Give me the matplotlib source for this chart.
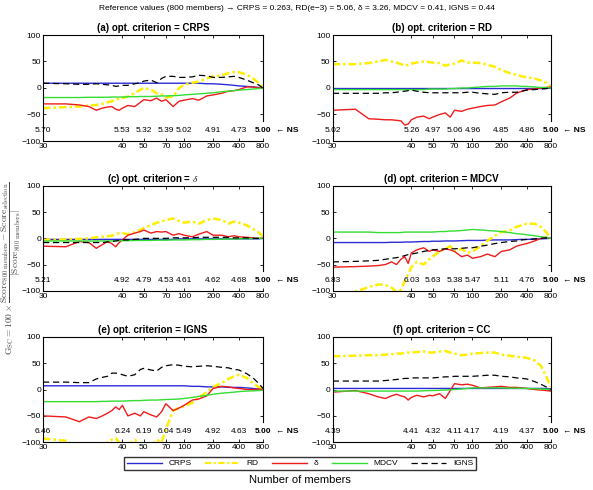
import numpy as np
import matplotlib
matplotlib.use("Agg")
import matplotlib.pyplot as plt
from matplotlib.lines import Line2D

plt.rcParams['font.family'] = ['Liberation Sans', 'DejaVu Sans']
plt.rcParams['mathtext.fontset'] = 'cm'

# ---------------- data ----------------
n_members = [30, 31, 32, 33, 34, 35, 36, 37, 38, 39, 40, 42, 45, 48, 50, 55, 60, 65, 70,
             80, 90, 100, 120, 140, 170, 200, 250, 300, 350, 400, 500, 600, 700, 800]

crps_a = [9]*24 + [8, 8, 7, 6, 5, 4, 3, 2, 1, 0]
rd_a = [-38, -36, -35, -33, -32, -30, -27, -25, -22, -20, -19, -16, -10, -3, 0, -3, -10, -12, -18,
        -16, 0, 6, 10, 12, 18, 22, 24, 28, 30, 30, 25, 18, 10, 0]
delta_a = [-30, -30, -32, -35, -42, -38, -36, -35, -40, -42, -38, -33, -35, -27, -22, -24, -19, -25, -22,
           -35, -25, -23, -20, -23, -15, -13, -10, -6, -5, -3, 2, 2, 0, 0]
mdcv_a = [-18, -18, -18, -17.5, -17.5, -17.5, -17.5, -17, -17, -17, -17, -16.5, -16.5, -16, -16, -16, -15.5,
          -15, -15, -14.5, -14, -13, -12, -11, -10, -9, -7, -6, -5, -4, -3, -2, -1, 0]
igns_a = [9, 8, 7, 7, 8, 7, 6, 5, 3, 4, 5, 5, 8, 10, 13, 15, 10, 18, 22,
          22, 20, 20, 21, 24, 23, 20, 20, 21, 22, 20, 15, 10, 6, 0]

crps_b = [-1]*33 + [0]
rd_b = [45, 45, 47, 50, 53, 50, 48, 45, 42, 44, 46, 48, 50, 49, 48, 47, 42, 45, 46,
        52, 48, 48, 47, 44, 40, 34, 28, 25, 22, 20, 18, 14, 10, 3]
delta_b = [-42, -40, -58, -59, -60, -60, -61, -62, -70, -68, -60, -55, -53, -58, -55, -50, -47, -55, -42,
           -44, -40, -38, -35, -33, -32, -26, -19, -10, -6, -3, -2, 0, 1, 2]
mdcv_b = [-3, -3, -3, -3, -3, -3, -3, -3, -3, -3, -3, -3, -3, -2, -2, -2, -2, -1, -1,
          0, 0, 1, 2, 3, 3, 4, 4, 4, 3, 3, 2, 1, 1, 0]
igns_b = [-10, -10, -10, -10, -9, -9, -8, -7, -6, -5, -4, -6, -8, -9, -9, -9, -9, -9, -9,
          -9, -8, -8, -10, -11, -12, -9, -8, -8, -6, -4, -3, -2, -1, 0]

crps_c = [-2]*20 + [-1]*13 + [0]
rd_c = [-3, -2, -1, 0, 2, 3, 4, 5, 8, 10, 10, 8, 12, 16, 20, 25, 30, 32, 35,
        38, 33, 30, 32, 28, 35, 38, 35, 28, 32, 30, 25, 18, 12, 3]
delta_c = [-15, -16, -6, -8, -19, -12, -6, -10, -16, -8, -3, 6, 10, 13, 16, 10, 13, 12, 13,
           6, 9, 6, 3, 8, 13, 6, 6, 3, 5, 3, 2, 1, 0, 0]
mdcv_c = [-5, -5, -5, -5, -5, -5, -5, -5, -4.5, -4.5, -4.5, -4.5, -4, -4, -4, -4, -3.5, -3.5, -3.5,
          -3, -3, -3, -2.5, -2.5, -2, -2, -1.5, -1.5, -1, -1, -0.5, -0.5, 0, 0]
igns_c = [-8, -8, -8, -8, -8, -8, -7, -6, -5, -4, -3, -3, -2, -1, 0, 0, 0, 0, 0,
          1, 1, 1, 1, 2, 2, 2, 2, 2, 1, 1, 1, 0, 0, 0]

crps_d = [-8, -8, -8, -8, -8, -7.5, -7.5, -7.5, -7, -7, -7, -6.5, -6, -6, -5.5, -5.5, -5, -5, -5,
          -4.5, -4, -4, -4, -3.5, -3, -3, -3, -2.5, -2, -2, -1.5, -1, -0.5, 0]
rd_d = [-130, -102, -93, -88, -89, -94, -102, -98, -82, -68, -55, -45, -50, -40, -35, -25, -20, -15, -25,
        -20, -28, -25, -15, -5, 5, 12, 15, 22, 25, 28, 28, 22, 12, 0]
delta_d = [-55, -54, -53, -52, -50, -45, -50, -40, -35, -48, -28, -22, -18, -25, -22, -25, -20, -22, -25,
           -35, -32, -38, -35, -30, -35, -25, -22, -15, -12, -10, -5, 0, 2, 0]
mdcv_d = [12, 12, 12, 11, 11, 11, 11, 11, 12, 12, 12, 12, 12, 12, 12, 13, 13, 14, 14,
          15, 16, 17, 16, 15, 14, 13, 11, 9, 8, 7, 5, 3, 2, 0]
igns_d = [-45, -44, -43, -42, -40, -38, -37, -35, -33, -31, -30, -28, -25, -23, -22, -21, -20, -20, -20,
          -19, -18, -18, -15, -13, -10, -8, -6, -5, -3, -2, -1, 0, 1, 1]

crps_e = [7]*22 + [6, 6, 5, 5, 5, 4, 4, 4, 3, 2, 1, 0]
rd_e = [-93, -97, -110, -120, -115, -110, -100, -95, -92, -100, -110, -105, -95, -105, -115, -110, -95, -100, -75,
        -40, -35, -32, -25, -15, -5, 5, 12, 20, 25, 28, 22, 12, 5, 0]
delta_e = [-50, -52, -61, -52, -55, -50, -45, -40, -33, -38, -30, -50, -45, -50, -42, -48, -52, -42, -27,
           -40, -35, -30, -20, -18, -12, 2, 6, 5, 3, 2, 0, 0, 1, 0]
mdcv_e = [-23, -23, -23, -23, -23, -22.5, -22.5, -22, -22, -22, -22, -21.5, -21, -21, -20.5, -20, -20, -19.5, -19,
          -18.5, -18, -17, -15, -13, -11, -9, -7, -6, -5, -4, -3, -2.5, -2, -1.5]
igns_e = [14, 14, 13, 13, 20, 23, 25, 31, 31, 30, 28, 25, 28, 38, 40, 37, 35, 42, 45,
          47, 46, 44, 43, 44, 45, 44, 42, 41, 38, 37, 30, 22, 12, 2]

crps_f = [2]*33 + [1]
rd_f = [63, 64, 65, 65, 66, 67, 68, 68, 69, 70, 70, 71, 72, 70, 70, 72, 73, 70, 68,
        65, 66, 68, 69, 70, 70, 66, 64, 62, 61, 60, 55, 45, 25, 5]
delta_f = [-5, -2, -8, -14, -17, -12, -9, -12, -14, -20, -15, -11, -14, -11, -12, -8, -17, -2, 11,
           9, 10, 8, 3, 4, 5, 6, 4, 4, 3, 2, 0, -1, -2, -3]
mdcv_f = [-3, -3, -3, -3, -3, -3, -3, -3, -3, -3, -3, -3, -2.5, -2, -2, -1.5, -1, -0.5, 0,
          1, 2, 3, 3, 3, 3, 3, 2.5, 2.5, 2, 2, 1.5, 1, 0.5, 0]
igns_f = [16, 16, 16, 16, 17, 18, 19, 20, 21, 21, 22, 22, 22, 22, 22, 23, 24, 24, 25,
          25, 25, 25, 26, 27, 27, 25, 24, 22, 21, 20, 15, 10, 5, 0]

xticks = [30, 40, 50, 70, 100, 200, 400, 800]
ns_a = ["5.70", "5.53", "5.32", "5.39", "5.02", "4.91", "4.73", "5.00"]
ns_b = ["5.02", "5.26", "4.97", "5.06", "4.96", "4.85", "4.86", "5.00"]
ns_c = ["5.21", "4.92", "4.79", "4.53", "4.61", "4.62", "4.68", "5.00"]
ns_d = ["6.83", "6.03", "5.63", "5.38", "5.47", "5.11", "4.76", "5.00"]
ns_e = ["6.46", "6.24", "6.19", "6.04", "5.49", "4.92", "4.63", "5.00"]
ns_f = ["4.39", "4.41", "4.32", "4.11", "4.17", "4.19", "4.37", "5.00"]

titles = ["(a) opt. criterion = CRPS", "(b) opt. criterion = RD", r"(c) opt. criterion = $\delta$",
          "(d) opt. criterion = MDCV", "(e) opt. criterion = IGNS", "(f) opt. criterion = CC"]
series_names = ["CRPS", "RD", "δ", "MDCV", "IGNS"]

panels = [
    (crps_a, rd_a, delta_a, mdcv_a, igns_a, ns_a),
    (crps_b, rd_b, delta_b, mdcv_b, igns_b, ns_b),
    (crps_c, rd_c, delta_c, mdcv_c, igns_c, ns_c),
    (crps_d, rd_d, delta_d, mdcv_d, igns_d, ns_d),
    (crps_e, rd_e, delta_e, mdcv_e, igns_e, ns_e),
    (crps_f, rd_f, delta_f, mdcv_f, igns_f, ns_f),
]

styles = [
    dict(color='#2b2bd6', lw=1.0, ls='-'),
    dict(color='#ffee00', lw=1.8, ls=(0, (3, 1.2, 1, 1.2))),
    dict(color='#ee1c1c', lw=1.0, ls='-'),
    dict(color='#33dd33', lw=1.0, ls='-'),
    dict(color='black', lw=0.9, ls=(0, (5, 3))),
]

# ---------------- figure ----------------
fig = plt.figure(figsize=(5.93, 4.90), dpi=100)

W, H = 593.0, 490.0
lefts = [43 / W, 332.7 / W]
widths = [220 / W, 218 / W]
tops = [35, 186, 336.7]
bots = [141, 290.7, 442.3]

fwd = lambda x: np.log(np.maximum(np.asarray(x, dtype=float) - 29.0, 1e-9))
inv = lambda y: np.exp(y) + 29.0

for i, (crps, rd, dl, md, ig, ns) in enumerate(panels):
    r, c = divmod(i, 2)
    ax = fig.add_axes([lefts[c], 1 - bots[r] / H, widths[c], (bots[r] - tops[r]) / H])
    ax.set_xscale('function', functions=(fwd, inv))
    ax.set_xlim(30, 800)
    ax.set_ylim(-100, 100)
    for vals, st in zip([crps, rd, dl, md, ig], styles):
        ax.plot(n_members, vals, **st)
    ax.set_xticks(xticks)
    ax.set_xticklabels([str(t) for t in xticks])
    ax.xaxis.set_minor_locator(matplotlib.ticker.NullLocator())
    ax.set_yticks([-100, -50, 0, 50, 100])
    ax.tick_params(direction='in', length=2.5, width=0.6, labelsize=6, top=True, right=True, pad=1.5)
    for s in ax.spines.values():
        s.set_linewidth(0.8)
    ax.spines['right'].set_bounds(-62, 100)
    ax.set_title(titles[i], fontsize=7, fontweight='bold', pad=3)
    for j, (xv, lab) in enumerate(zip(xticks, ns)):
        ax.text(xv, -80, lab, ha='center', va='center', fontsize=6,
                fontweight='bold' if j == len(ns) - 1 else 'normal', clip_on=False)
    ax.annotate('← NS', xy=(800, -80), xytext=(9, 0), textcoords='offset points',
                ha='left', va='center', fontsize=6, fontweight='bold', annotation_clip=False)

fig.text(0.5, 1 - 8 / H, "Reference values (800 members) → CRPS = 0.263, RD(e−3) = 5.06, δ = 3.26, MDCV = 0.41, IGNS = 0.44",
         ha='center', va='center', fontsize=6)

fig.text(0.0185, 1 - 268 / H,
         r'$\mathrm{G_{SC}}=100\times\dfrac{\mathrm{Score}_{800\ \mathrm{members}}-\mathrm{Score}_{\mathrm{selection}}}{|\mathrm{Score}_{800\ \mathrm{members}}|}$',
         rotation=90, ha='center', va='center', fontsize=6.8, color='#444444')

handles = [Line2D([], [], **st) for st in styles]
handles[1] = Line2D([], [], color='#ffee00', lw=1.5, ls=(0, (3, 1.2, 1, 1.2)))
fig.legend(handles, series_names, loc='center', bbox_to_anchor=(300 / W, 1 - 463.5 / H), ncol=5,
           fontsize=6, frameon=True, fancybox=False, edgecolor='black', borderpad=0.3,
           handlelength=4.2, columnspacing=1.6, handletextpad=0.8)
fig.text(300 / W, 1 - 480 / H, "Number of members", ha='center', va='center', fontsize=8)

fig.savefig("out.png", dpi=100)
